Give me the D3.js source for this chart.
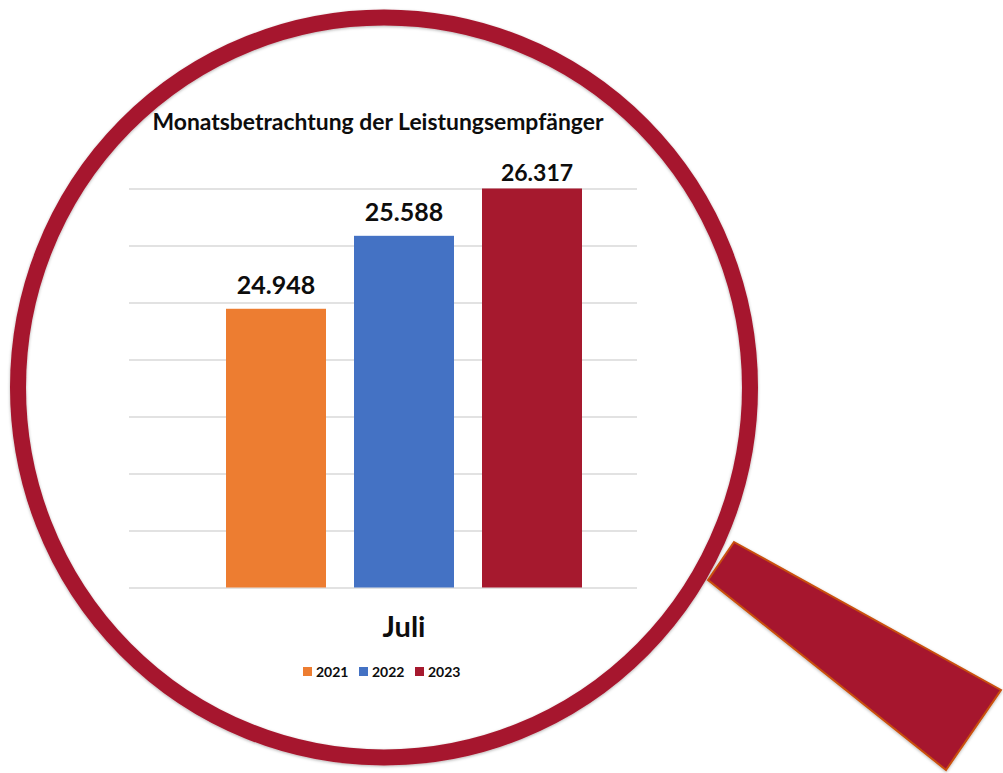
<!DOCTYPE html>
<html>
<head>
<meta charset="utf-8">
<script src="https://cdn.jsdelivr.net/npm/d3@7"></script>
<style>
body { margin: 0; background: #fff; }
text { font-family: Lato, "Open Sans", sans-serif; font-weight: 700; fill: #0d0d0d; }
</style>
</head>
<body>
<div id="container"></div>
<script>
const canvasWidth = 1003;
const canvasHeight = 773;

// data
const years = ['2021', '2022', '2023'];
const valueLabels = ['24.948', '25.588', '26.317'];
// bar tops, in gridline steps
// (the bars in the picture are not proportional to the printed values)
const barLevels = [4.89, 6.17, 7];
const gridLevels = [0, 1, 2, 3, 4, 5, 6, 7];
const category = 'Juli';
const title = 'Monatsbetrachtung der Leistungsempfänger';
const barColors = ['#ed7d31', '#4472c4', '#a6192e'];

const red = '#a6192e';

let svg = d3.select('#container')
  .append('svg')
  .attr('width', canvasWidth)
  .attr('height', canvasHeight)
  .style('display', 'block');

let shadow = svg.append('defs').append('filter')
  .attr('id', 'shadow')
  .attr('x', '-5%').attr('y', '-5%')
  .attr('width', '110%').attr('height', '110%');
shadow.append('feDropShadow')
  .attr('dx', 0).attr('dy', 1)
  .attr('stdDeviation', 1.5)
  .attr('flood-color', '#000')
  .attr('flood-opacity', 0.3);

// magnifying glass
svg.append('ellipse')
  .attr('cx', 384)
  .attr('cy', 387.5)
  .attr('rx', 366)
  .attr('ry', 370)
  .style('fill', 'none')
  .style('stroke', red)
  .style('stroke-width', 16)
  .attr('filter', 'url(#shadow)');

svg.append('polygon')
  .attr('points', '734,542 1001,690 946,770 708,580')
  .style('fill', red)
  .style('stroke', '#c9500f')
  .style('stroke-width', 2)
  .attr('filter', 'url(#shadow)');

// scales
let x = d3.scaleBand()
  .domain(years)
  .range([226, 582])
  .paddingInner(28 / 128);

let y = d3.scaleLinear()
  .domain([0, 7])
  .range([587.5, 188.5]);

let color = d3.scaleOrdinal().domain(years).range(barColors);

// gridlines
let grid = svg.append('g')
  .attr('transform', 'translate(129,0)')
  .call(d3.axisLeft(y).tickValues(gridLevels).tickSize(-508).tickFormat(''));
grid.select('.domain').remove();
grid.selectAll('line')
  .style('stroke', '#d9d9d9')
  .style('stroke-width', 1.5);

// bars
svg.selectAll('.bar').data(years).enter()
  .append('rect')
  .attr('class', 'bar')
  .attr('x', d => x(d))
  .attr('y', (d, i) => y(barLevels[i]))
  .attr('width', x.bandwidth())
  .attr('height', (d, i) => y(0) - y(barLevels[i]))
  .style('fill', d => color(d));

// value labels, the last one sits a bit off centre in the picture
svg.selectAll('.value').data(years).enter()
  .append('text')
  .attr('class', 'value')
  .attr('x', (d, i) => x(d) + x.bandwidth() / 2 + (i == 2 ? 5 : 0))
  .attr('y', (d, i) => y(barLevels[i]) - (i == 2 ? 8 : 14.5))
  .attr('text-anchor', 'middle')
  .style('font-size', (d, i) => (i == 2 ? '23px' : '25px'))
  .text((d, i) => valueLabels[i]);

svg.append('text')
  .attr('x', 378)
  .attr('y', 130)
  .attr('text-anchor', 'middle')
  .style('font-size', '22.9px')
  .text(title);

svg.append('text')
  .attr('x', 404)
  .attr('y', 637)
  .attr('text-anchor', 'middle')
  .style('font-size', '29px')
  .text(category);

// legend
let legend = svg.selectAll('.legend').data(years).enter()
  .append('g')
  .attr('class', 'legend')
  .attr('transform', (d, i) => 'translate(' + (303 + i * 56) + ',667)');

legend.append('rect')
  .attr('width', 9)
  .attr('height', 9)
  .style('fill', d => color(d));

legend.append('text')
  .attr('x', 13)
  .attr('y', 10)
  .style('font-size', '14px')
  .text(d => d);
</script>
</body>
</html>
